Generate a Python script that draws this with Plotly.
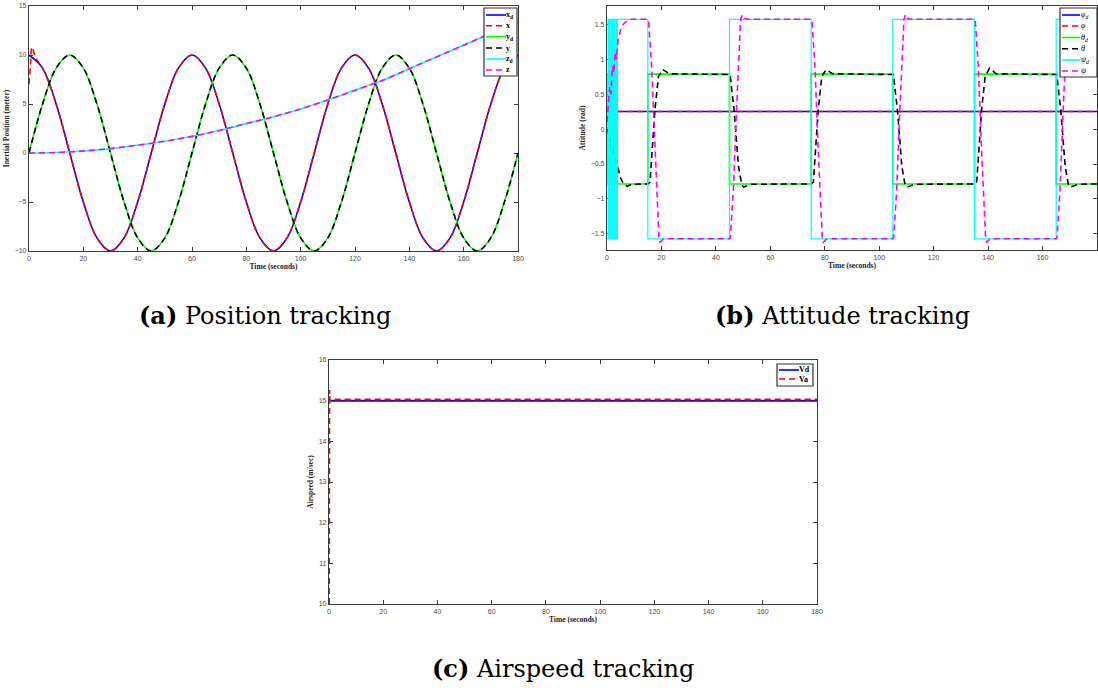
import plotly.graph_objects as go

W, H = 1098, 688

# ---------------- (a) Position tracking ----------------
t_pos = [0, 5, 10, 15, 20, 25, 30, 35, 40, 45, 50, 55, 60, 65, 70, 75, 80, 85, 90,
         95, 100, 105, 110, 115, 120, 125, 130, 135, 140, 145, 150, 155, 160, 165,
         170, 175, 180]
x_des = [10, 8.66, 5, 0, -5, -8.66, -10, -8.66, -5, 0, 5, 8.66, 10, 8.66, 5, 0, -5,
         -8.66, -10, -8.66, -5, 0, 5, 8.66, 10, 8.66, 5, 0, -5, -8.66, -10, -8.66,
         -5, 0, 5, 8.66, 10]
t_x_meas = [0, 0.5, 1.1, 2.5, 5, 10, 15, 20, 25, 30, 35, 40, 45, 50, 55, 60, 65, 70,
            75, 80, 85, 90, 95, 100, 105, 110, 115, 120, 125, 130, 135, 140, 145,
            150, 155, 160, 165, 170, 175, 180]
x_meas = [7, 8.8, 10.8, 9.66, 8.66, 5, 0, -5, -8.66, -10, -8.66, -5, 0, 5, 8.66, 10,
          8.66, 5, 0, -5, -8.66, -10, -8.66, -5, 0, 5, 8.66, 10, 8.66, 5, 0, -5,
          -8.66, -10, -8.66, -5, 0, 5, 8.66, 10]
y_des = [0, 5, 8.66, 10, 8.66, 5, 0, -5, -8.66, -10, -8.66, -5, 0, 5, 8.66, 10, 8.66,
         5, 0, -5, -8.66, -10, -8.66, -5, 0, 5, 8.66, 10, 8.66, 5, 0, -5, -8.66, -10,
         -8.66, -5, 0]
y_meas = [0, 5, 8.66, 10, 8.66, 5, 0, -5, -8.66, -10, -8.66, -5, 0, 5, 8.66, 10, 8.66,
          5, 0, -5, -8.66, -10, -8.66, -5, 0, 5, 8.66, 10, 8.66, 5, 0, -5, -8.66, -10,
          -8.66, -5, 0]
t_z = [0, 10, 20, 30, 40, 50, 60, 70, 80, 90, 100, 110, 120, 130, 140, 150, 160, 170, 180]
z_des = [0, 0.05, 0.2, 0.45, 0.8, 1.2, 1.7, 2.3, 3.0, 3.7, 4.5, 5.4, 6.4, 7.4, 8.6,
         9.8, 11.0, 12.2, 13.3]
z_meas = [0, 0.05, 0.2, 0.45, 0.8, 1.2, 1.7, 2.3, 3.0, 3.7, 4.5, 5.4, 6.4, 7.4, 8.6,
          9.8, 11.0, 12.2, 13.3]

# ---------------- (b) Attitude tracking ----------------
t_phi = [0, 180]
phi_des = [0.25, 0.25]
phi_meas = [0.25, 0.25]
t_steps = [0, 0.4, 0.85, 1.2, 1.7, 2.1, 2.6, 2.9, 3.4, 3.8, 15, 45, 75, 105, 135, 165, 180]
theta_des = [0.785, -0.785, 0.785, -0.785, 0.785, -0.785, 0.785, -0.785, 0.785, -0.785,
             0.785, -0.785, 0.785, -0.785, 0.785, -0.785, -0.785]
psi_des = [-1.57, 1.57, -1.57, 1.57, -1.57, 1.57, -1.57, 1.57, -1.57, 1.57,
           -1.57, 1.57, -1.57, 1.57, -1.57, 1.57, 1.57]
t_theta = [0, 1, 2, 3, 4, 5, 6, 7.5, 9, 11,
           15, 15.8, 16.7, 17.6, 18.9, 20.5, 23,
           45, 45.2, 46.7, 48.3, 49.5, 50.3, 53,
           75, 75.8, 76.7, 77.6, 78.9, 80.5, 83,
           105, 105.2, 106.7, 108.3, 109.5, 110.3, 113,
           135, 135.8, 136.7, 137.6, 138.9, 140.5, 143,
           165, 165.2, 166.7, 168.3, 169.5, 170.3, 173, 180]
theta_meas = [0, -0.1, -0.25, -0.4, -0.55, -0.7, -0.78, -0.82, -0.79, -0.785,
              -0.785, -0.76, -0.2, 0.27, 0.75, 0.85, 0.79,
              0.785, 0.78, 0.27, -0.53, -0.8, -0.83, -0.79,
              -0.785, -0.76, -0.2, 0.27, 0.75, 0.85, 0.79,
              0.785, 0.78, 0.27, -0.53, -0.8, -0.83, -0.79,
              -0.785, -0.76, -0.2, 0.27, 0.75, 0.87, 0.79,
              0.785, 0.78, 0.27, -0.53, -0.8, -0.83, -0.79, -0.785]
t_psi = [0, 0.5, 1, 1.5, 2, 2.5, 3, 3.5, 4, 5, 6, 7.5, 9,
         15, 15.3, 16.4, 17.6, 18.5, 19.1, 19.5, 20.5, 22,
         45, 45.3, 46.4, 47.6, 48.5, 49.1, 49.7, 50.5, 52,
         75, 75.3, 76.4, 77.6, 78.5, 79.1, 79.5, 80.5, 82,
         105, 105.3, 106.4, 107.6, 108.5, 109.1, 109.7, 110.5, 112,
         135, 135.3, 136.4, 137.6, 138.5, 139.1, 139.5, 140.5, 142,
         165, 165.3, 166.4, 167.6, 168.5, 169.1, 169.7, 170.5, 172, 180]
psi_meas = [0.1, 0.3, 0.6, 0.5, 0.9, 0.8, 1.1, 1.0, 1.25, 1.42, 1.5, 1.55, 1.57,
            1.57, 1.55, 0.89, -0.3, -1.2, -1.57, -1.62, -1.58, -1.57,
            -1.57, -1.55, -0.89, 0.3, 1.2, 1.57, 1.63, 1.58, 1.57,
            1.57, 1.55, 0.89, -0.3, -1.2, -1.57, -1.62, -1.58, -1.57,
            -1.57, -1.55, -0.89, 0.3, 1.2, 1.57, 1.64, 1.58, 1.57,
            1.57, 1.55, 0.89, -0.3, -1.2, -1.57, -1.62, -1.58, -1.57,
            -1.57, -1.55, -0.89, 0.3, 1.2, 1.57, 1.63, 1.58, 1.57, 1.57]

# ---------------- (c) Airspeed tracking ----------------
t_vd = [0, 180]
v_des = [15, 15]
t_va = [0, 0.15, 0.3, 0.6, 180]
v_meas = [10, 15.26, 15.0, 15.03, 15.03]

# ---------------- text ----------------
x_title = "<b>Time (seconds)</b>"
y_titles = ["<b>Inertial Position (meter)</b>", "<b>Attitude (rad)</b>", "<b>Airspeed (m/sec)</b>"]
captions = ["<b>(a)</b> Position tracking", "<b>(b)</b> Attitude tracking", "<b>(c)</b> Airspeed tracking"]
legend_a = ["<b>x<sub>d</sub></b>", "<b>x</b>", "<b>y<sub>d</sub></b>", "<b>y</b>",
            "<b>z<sub>d</sub></b>", "<b>z</b>"]
legend_b = ["<i>φ<sub>d</sub></i>", "<i>φ</i>", "<i>θ<sub>d</sub></i>", "<i>θ</i>",
            "<i>ψ<sub>d</sub></i>", "<i>ψ</i>"]
legend_c = ["<b>Vd</b>", "<b>Va</b>"]

BLUE, RED, GREEN, BLACK, CYAN, MAG = "#0000ff", "#ff0000", "#00ff00", "#000000", "#00ffff", "#ff00ff"
DASH = "6px,4px"

fig = go.Figure()

def add(x, y, color, dash, name, ax, shape="linear", width=1.6):
    fig.add_trace(go.Scatter(
        x=x, y=y, mode="lines", name=name, showlegend=False,
        line=dict(color=color, width=width, dash=dash, shape=shape),
        xaxis="x" + ax, yaxis="y" + ax, hoverinfo="skip"))

# (a)
add(t_pos, x_des, BLUE, "solid", "x_d", "", "spline")
add(t_x_meas, x_meas, RED, DASH, "x", "", "spline")
add(t_pos, y_des, GREEN, "solid", "y_d", "", "spline")
add(t_pos, y_meas, BLACK, DASH, "y", "", "spline")
add(t_z, z_des, CYAN, "solid", "z_d", "", "spline")
add(t_z, z_meas, MAG, DASH, "z", "", "spline")
# (b)
add(t_phi, phi_des, BLUE, "solid", "phi_d", "2")
add(t_phi, phi_meas, RED, DASH, "phi", "2")
add(t_steps, theta_des, GREEN, "solid", "theta_d", "2", "hv")
add(t_theta, theta_meas, BLACK, DASH, "theta", "2")
add(t_steps, psi_des, CYAN, "solid", "psi_d", "2", "hv", width=1.2)
add(t_psi, psi_meas, MAG, DASH, "psi", "2")
# (c)
add(t_vd, v_des, BLUE, "solid", "Vd", "3", width=2)
add(t_va, v_meas, RED, DASH, "Va", "3", width=2)

AXC = "#3a3a3a"
def axis(domain, rng, dtick, title, standoff, anchor):
    return dict(domain=domain, range=rng, dtick=dtick, tick0=0, showgrid=False,
                zeroline=False, showline=True, linecolor=AXC, linewidth=1.2,
                mirror="ticks", ticks="inside", ticklen=4, tickcolor=AXC, tickwidth=1,
                tickfont=dict(family="Liberation Sans", size=7, color="#4a4a4a"),
                title=dict(text=title, standoff=standoff,
                           font=dict(family="Liberation Serif", size=7.5, color="#222")),
                automargin=False, layer="below traces", anchor=anchor, fixedrange=True)

def px(v, total, flip=False):
    return 1 - v / total if flip else v / total

fig.update_layout(
    width=W, height=H, margin=dict(l=0, r=0, t=0, b=0, autoexpand=False),
    paper_bgcolor="white", plot_bgcolor="white", showlegend=False,
    xaxis=axis([px(29, W), px(518, W)], [0, 180], 20, x_title, 1, "y"),
    yaxis=axis([px(251, H, True), px(6, H, True)], [-10, 15], 5, y_titles[0], 4, "x"),
    xaxis2=axis([px(607, W), px(1097, W)], [0, 180], 20, x_title, 1, "y2"),
    yaxis2=axis([px(250, H, True), px(6, H, True)], [-1.73, 1.76], 0.5, y_titles[1], 4, "x2"),
    xaxis3=axis([px(329, W), px(817, W)], [0, 180], 20, x_title, 1, "y3"),
    yaxis3=axis([px(604, H, True), px(360, H, True)], [10, 16], 1, y_titles[2], 4, "x3"),
)

# captions
for text, cx, cy in zip(captions, [265, 842, 563], [316, 316, 668]):
    fig.add_annotation(text=text, x=px(cx, W), y=px(cy, H, True), xref="paper", yref="paper",
                       showarrow=False, xanchor="center", yanchor="middle",
                       font=dict(family="DejaVu Serif", size=24, color="black"))

# manual legends (MATLAB-style compact boxes)
def legend(box, labels, colors, dashes, x0, x1, tx, ys, fsize=8):
    bx0, by0, bx1, by1 = box
    fig.add_shape(type="rect", xref="paper", yref="paper",
                  x0=px(bx0, W), x1=px(bx1, W), y0=px(by1, H, True), y1=px(by0, H, True),
                  line=dict(color="#333", width=1.2), fillcolor="white", layer="above")
    for lab, c, d, yy in zip(labels, colors, dashes, ys):
        fig.add_shape(type="line", xref="paper", yref="paper",
                      x0=px(x0, W), x1=px(x1, W), y0=px(yy, H, True), y1=px(yy, H, True),
                      line=dict(color=c, width=1.6, dash=d), layer="above")
        fig.add_annotation(text=lab, x=px(tx, W), y=px(yy, H, True), xref="paper", yref="paper",
                           showarrow=False, xanchor="left", yanchor="middle", borderpad=0,
                           font=dict(family="Liberation Serif", size=fsize, color="black"))

cols6 = [BLUE, RED, GREEN, BLACK, CYAN, MAG]
dash6 = ["solid", DASH, "solid", DASH, "solid", DASH]
legend((484, 8, 517, 76), legend_a, cols6, dash6, 486, 506, 505,
       [15, 25.7, 36.7, 48, 59, 70])
legend((1060, 8, 1097, 77), legend_b, cols6, dash6, 1062, 1080, 1080,
       [15, 26, 37.5, 48.7, 60, 71])
legend((777, 364, 813, 386), legend_c, [BLUE, RED], ["solid", DASH], 779, 799, 798,
       [370, 379])

fig.write_html("out.html", config={"displayModeBar": False},
               post_script="document.body.style.margin='0';")
